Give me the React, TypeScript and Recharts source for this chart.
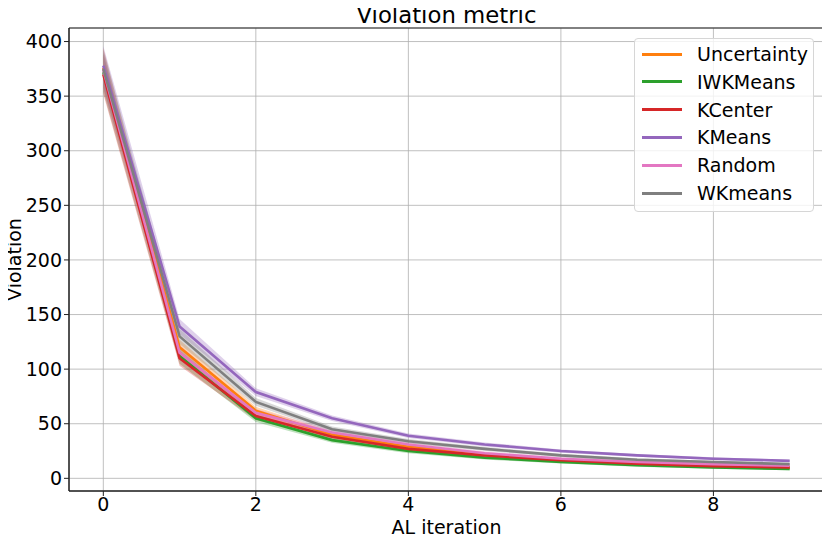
import React from 'react';
import {
  ComposedChart,
  Line,
  Area,
  XAxis,
  YAxis,
  CartesianGrid,
  ReferenceArea,
  Label,
} from 'recharts';

const iterations = [0, 1, 2, 3, 4, 5, 6, 7, 8, 9];

// mean curves
const uncertainty = [376, 120, 62, 40, 29, 22, 17, 14, 12, 10];
const iwkmeans = [372, 112, 55, 35, 25, 19, 15, 12, 10, 8.5];
const kcenter = [370, 110, 57, 38, 27, 21, 16.5, 13.5, 11, 10];
const kmeans = [378, 139, 79, 55, 39, 31, 25, 21, 18, 16];
const random = [374, 115, 60, 42, 31, 23, 18, 15, 13, 11.5];
const wkmeans = [375, 130, 70, 45, 34, 27, 21, 17, 15, 13];

// half width of the shaded bands
const spread = [18, 7, 3.5, 2.5, 2, 1.8, 1.5, 1.3, 1.2, 1.1];

const xTicks = [0, 2, 4, 6, 8];
const yTicks = [0, 50, 100, 150, 200, 250, 300, 350, 400];

const series = [
  { key: 'uncertainty', name: 'Uncertainty', color: '#ff7f0e', values: uncertainty },
  { key: 'iwkmeans', name: 'IWKMeans', color: '#2ca02c', values: iwkmeans },
  { key: 'kcenter', name: 'KCenter', color: '#d62728', values: kcenter },
  { key: 'kmeans', name: 'KMeans', color: '#9467bd', values: kmeans },
  { key: 'random', name: 'Random', color: '#e377c2', values: random },
  { key: 'wkmeans', name: 'WKmeans', color: '#7f7f7f', values: wkmeans },
];

const data = iterations.map((it, i) => {
  const row: Record<string, any> = { it };
  series.forEach((s) => {
    row[s.key] = s.values[i];
    row[s.key + 'Band'] = [s.values[i] - spread[i], s.values[i] + spread[i]];
  });
  return row;
});

const X_DOMAIN: [number, number] = [-0.45, 9.45];
const Y_DOMAIN: [number, number] = [-11.6, 412.4];
const FONT = 'DejaVu Sans, sans-serif';

const YLabel = (props: any) => {
  const vb = props.viewBox;
  const cx = 21;
  const cy = vb.y + vb.height / 2;
  return (
    <text
      x={cx}
      y={cy}
      fontSize={19}
      fill="#000"
      textAnchor="middle"
      transform={`rotate(-90, ${cx}, ${cy})`}
    >
      Violation
    </text>
  );
};

const LegendBox = () => (
  <div
    style={{
      position: 'absolute',
      left: 634,
      top: 38,
      width: 180,
      height: 174,
      boxSizing: 'border-box',
      border: '1px solid #d6d6d6',
      borderRadius: 4,
      background: 'rgba(255,255,255,0.8)',
      fontFamily: FONT,
      fontSize: 19,
      color: '#000',
    }}
  >
    {series.map((s, i) => (
      <div
        key={s.key}
        style={{
          position: 'absolute',
          left: 0,
          top: 1 + i * 27.8,
          height: 28,
          display: 'flex',
          alignItems: 'center',
        }}
      >
        <span
          style={{
            display: 'inline-block',
            marginLeft: 7,
            width: 40,
            height: 3,
            background: s.color,
          }}
        />
        <span style={{ marginLeft: 15, lineHeight: '28px' }}>{s.name}</span>
      </div>
    ))}
  </div>
);

const App = () => {
  return (
    <div style={{ position: 'relative', width: 830, height: 543, margin: -8 }}>
      <ComposedChart
        width={830}
        height={543}
        data={data}
        margin={{ top: 28, right: 6, bottom: 0, left: 0 }}
        style={{ fontFamily: FONT }}
      >
        <CartesianGrid stroke="#b0b0b0" strokeWidth={1} strokeOpacity={0.8} />
        <XAxis
          dataKey="it"
          type="number"
          domain={X_DOMAIN}
          ticks={xTicks}
          allowDataOverflow
          height={52}
          tickSize={5}
          tickMargin={2}
          stroke="#222"
          tick={{ fill: '#000', fontSize: 19 }}
        >
          <Label value="AL iteration" position="insideBottom" offset={9} fontSize={19} fill="#000" />
        </XAxis>
        <YAxis
          type="number"
          domain={Y_DOMAIN}
          ticks={yTicks}
          allowDataOverflow
          width={69}
          tickSize={5}
          tickMargin={2}
          stroke="#222"
          tick={{ fill: '#000', fontSize: 19 }}
          label={{ content: YLabel }}
        />
        {series.map((s) => (
          <Area
            key={s.key + 'Band'}
            dataKey={s.key + 'Band'}
            type="linear"
            stroke="none"
            fill={s.color}
            fillOpacity={0.3}
            isAnimationActive={false}
          />
        ))}
        {series.map((s) => (
          <Line
            key={s.key}
            dataKey={s.key}
            name={s.name}
            type="linear"
            stroke={s.color}
            strokeWidth={2.6}
            dot={false}
            isAnimationActive={false}
          />
        ))}
        <ReferenceArea
          x1={X_DOMAIN[0]}
          x2={X_DOMAIN[1]}
          y1={Y_DOMAIN[0]}
          y2={Y_DOMAIN[1]}
          fill="none"
          stroke="#222"
          strokeWidth={1}
          ifOverflow="visible"
        >
          <Label value="Violation metric" position="top" offset={5} fontSize={22.8} fill="#000" />
        </ReferenceArea>
      </ComposedChart>
      <LegendBox />
    </div>
  );
};

export default App;
